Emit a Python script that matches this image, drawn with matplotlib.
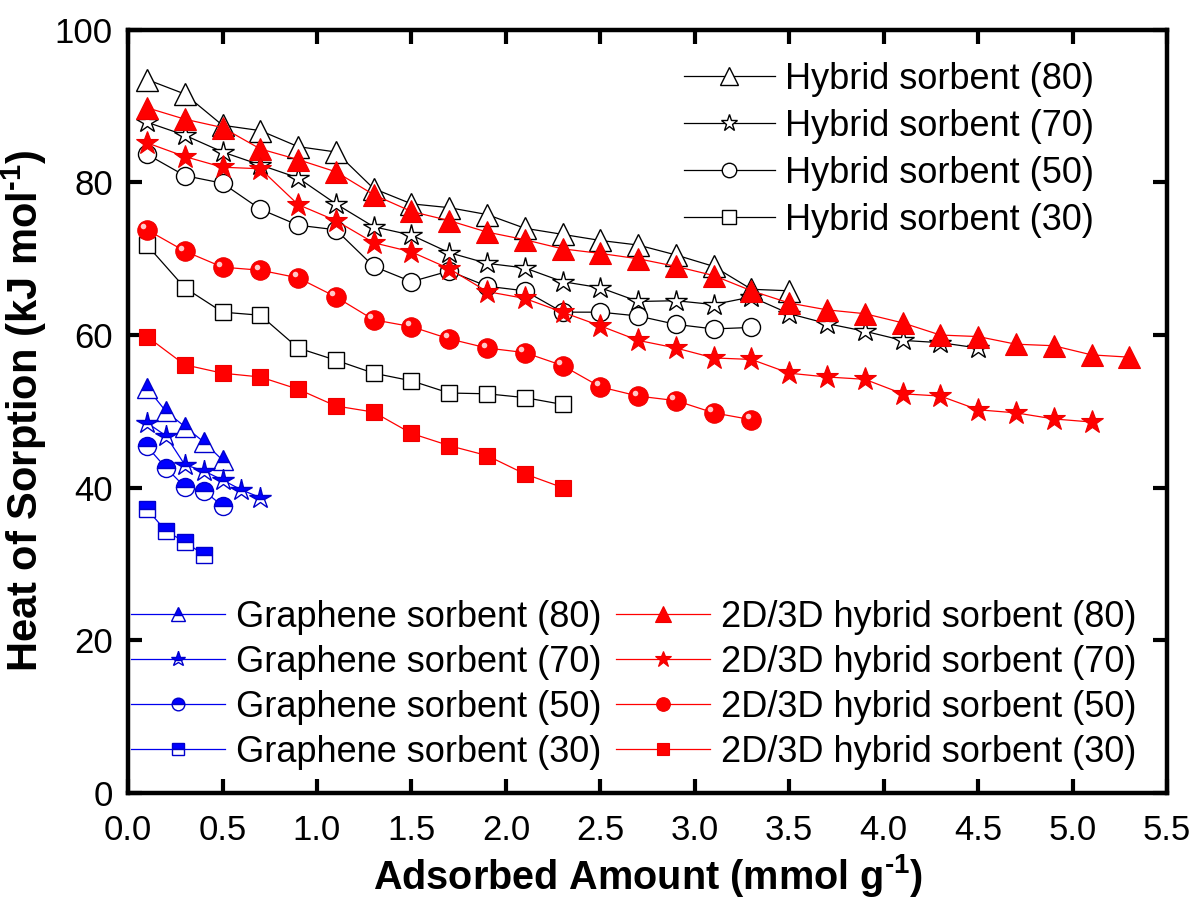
import numpy as np
import matplotlib
matplotlib.use('Agg')
import matplotlib.pyplot as plt
from matplotlib.transforms import ScaledTranslation

plt.rcParams['font.family'] = ['Liberation Sans', 'DejaVu Sans']
plt.rcParams['mathtext.fontset'] = 'custom'
plt.rcParams['mathtext.rm'] = 'Liberation Sans:bold'
plt.rcParams['mathtext.default'] = 'rm'

# Datos
x_h80 = np.round(np.arange(0.1, 3.55, 0.2), 2)
y_h80 = [93.5, 91.6, 87.5, 86.8, 84.7, 84.0, 79.2, 77.2, 76.7, 75.8, 74.0, 73.2, 72.4, 71.8, 70.5, 69.0, 66.0, 65.8]

x_h70 = np.round(np.arange(0.1, 4.55, 0.2), 2)
y_h70 = [87.9, 86.2, 84.0, 82.3, 80.6, 77.2, 74.2, 73.1, 70.8, 69.4, 68.8, 67.0, 66.2, 64.4, 64.5, 64.0, 65.0,
         62.8, 61.5, 60.5, 59.3, 59.0, 58.3]

x_h50 = np.round(np.arange(0.1, 3.35, 0.2), 2)
y_h50 = [83.7, 80.9, 79.9, 76.5, 74.4, 73.8, 69.0, 67.0, 68.4, 66.4, 65.8, 63.0, 63.0, 62.5, 61.4, 60.8, 61.0]

x_h30 = np.round(np.arange(0.1, 2.35, 0.2), 2)
y_h30 = [71.8, 66.2, 63.0, 62.6, 58.3, 56.7, 55.0, 54.0, 52.4, 52.3, 51.8, 50.9]

x_r80 = np.round(np.arange(0.1, 5.35, 0.2), 2)
y_r80 = [89.8, 88.3, 87.2, 84.4, 83.0, 81.4, 78.4, 76.2, 75.0, 73.5, 72.5, 71.3, 70.7, 70.0, 69.0, 67.8, 65.8,
         64.2, 63.3, 62.8, 61.6, 60.0, 59.8, 58.8, 58.6, 57.4, 57.1]

x_r70 = np.round(np.arange(0.1, 5.15, 0.2), 2)
y_r70 = [85.2, 83.4, 82.0, 81.8, 77.1, 75.0, 72.1, 70.9, 68.7, 65.7, 64.8, 63.0, 61.2, 59.3, 58.3, 57.0, 56.8,
         55.0, 54.5, 54.2, 52.3, 52.0, 50.2, 49.8, 49.0, 48.6]

x_r50 = np.round(np.arange(0.1, 3.35, 0.2), 2)
y_r50 = [73.8, 71.0, 68.9, 68.5, 67.5, 65.0, 62.0, 61.1, 59.5, 58.3, 57.7, 56.0, 53.2, 52.0, 51.4, 49.8, 48.9]

x_r30 = np.round(np.arange(0.1, 2.35, 0.2), 2)
y_r30 = [59.8, 56.1, 55.0, 54.5, 52.9, 50.7, 49.9, 47.1, 45.5, 44.2, 41.8, 40.0]

x_g80 = [0.1, 0.2, 0.3, 0.4, 0.5]
y_g80 = [53.1, 50.0, 48.0, 46.0, 43.6]
x_g70 = [0.1, 0.2, 0.3, 0.4, 0.5, 0.6, 0.7]
y_g70 = [48.5, 46.8, 43.0, 42.2, 41.0, 39.7, 38.7]
x_g50 = [0.1, 0.2, 0.3, 0.4, 0.5]
y_g50 = [45.4, 42.6, 40.1, 39.6, 37.6]
x_g30 = [0.1, 0.2, 0.3, 0.4]
y_g30 = [37.2, 34.3, 32.9, 31.2]

fig = plt.figure(figsize=(11.97, 9.07), dpi=100)
ax = fig.add_axes([0.107, 0.126, 0.868, 0.841])

lw = 0.9
# Hybrid sorbent (negro, abiertos)
h_lines = []
for x, y, m, ms, lab in [(x_h80, y_h80, '^', 16, 'Hybrid sorbent (80)'),
                         (x_h70, y_h70, '*', 16, 'Hybrid sorbent (70)'),
                         (x_h50, y_h50, 'o', 13, 'Hybrid sorbent (50)'),
                         (x_h30, y_h30, 's', 12, 'Hybrid sorbent (30)')]:
    l, = ax.plot(x, y, color='black', lw=lw, marker=m, ms=ms, mfc='white', mec='black', mew=1.0, label=lab)
    h_lines.append(l)

# 2D/3D hybrid sorbent (rojo, rellenos)
r_lines = []
for x, y, m, ms, lab in [(x_r80, y_r80, '^', 16, '2D/3D hybrid sorbent (80)'),
                         (x_r70, y_r70, '*', 17, '2D/3D hybrid sorbent (70)'),
                         (x_r50, y_r50, 'o', 14, '2D/3D hybrid sorbent (50)'),
                         (x_r30, y_r30, 's', 12, '2D/3D hybrid sorbent (30)')]:
    l, = ax.plot(x, y, color='#ff0000', lw=lw, marker=m, ms=ms, mfc='#ff0000', mec='#ee0000', mew=0.8, label=lab)
    r_lines.append(l)

# brillo de las esferas
off = ScaledTranslation(-2.5 / 72, 2.5 / 72, fig.dpi_scale_trans)
ax.plot(x_r50, y_r50, ls='none', marker='o', ms=4, mfc='#ffc8c8', mec='none', transform=ax.transData + off)

# Graphene sorbent (azul, medio rellenos)
g_lines = []
for x, y, m, ms, lab in [(x_g80, y_g80, '^', 14, 'Graphene sorbent (80)'),
                         (x_g70, y_g70, '*', 16, 'Graphene sorbent (70)'),
                         (x_g50, y_g50, 'o', 13, 'Graphene sorbent (50)'),
                         (x_g30, y_g30, 's', 12, 'Graphene sorbent (30)')]:
    l, = ax.plot(x, y, color='#0000ee', lw=lw, marker=m, ms=ms, fillstyle='top', mfc='#0000ff',
                 mfcalt='white', mec='#0000cc', mew=1.0, label=lab)
    g_lines.append(l)

ax.set_xlim(0, 5.5)
ax.set_ylim(0, 100)
ax.set_xticks(np.arange(0, 5.51, 0.5))
ax.set_yticks(np.arange(0, 101, 20))
ax.tick_params(direction='in', length=10, width=3, top=True, right=True, labelsize=25)
ax.tick_params(axis='x', pad=15)
ax.tick_params(axis='y', pad=11)
for s in ax.spines.values():
    s.set_linewidth(3.2)

ax.set_xlabel(r'Adsorbed Amount (mmol g$^{\text{-1}}$)', fontsize=28.5, fontweight='bold', labelpad=4)
ax.set_ylabel(r'Heat of Sorption (kJ mol$^{\text{-1}}$)', fontsize=30, fontweight='bold', labelpad=4)

leg1 = ax.legend(handles=h_lines, loc='upper right', bbox_to_anchor=(0.93, 0.958), frameon=False,
                 fontsize=26, numpoints=1, handlelength=2.5, handletextpad=0.3, labelspacing=0.33,
                 borderpad=0, borderaxespad=0, markerscale=0.8)
ax.add_artist(leg1)
ax.legend(handles=g_lines + r_lines, loc='lower left', bbox_to_anchor=(0.003, 0.03), ncol=2, frameon=False,
          fontsize=26, numpoints=1, handlelength=2.6, handletextpad=0.3, labelspacing=0.28,
          columnspacing=0.4, borderpad=0, borderaxespad=0, markerscale=0.7)

fig.savefig('out.png', dpi=100)
